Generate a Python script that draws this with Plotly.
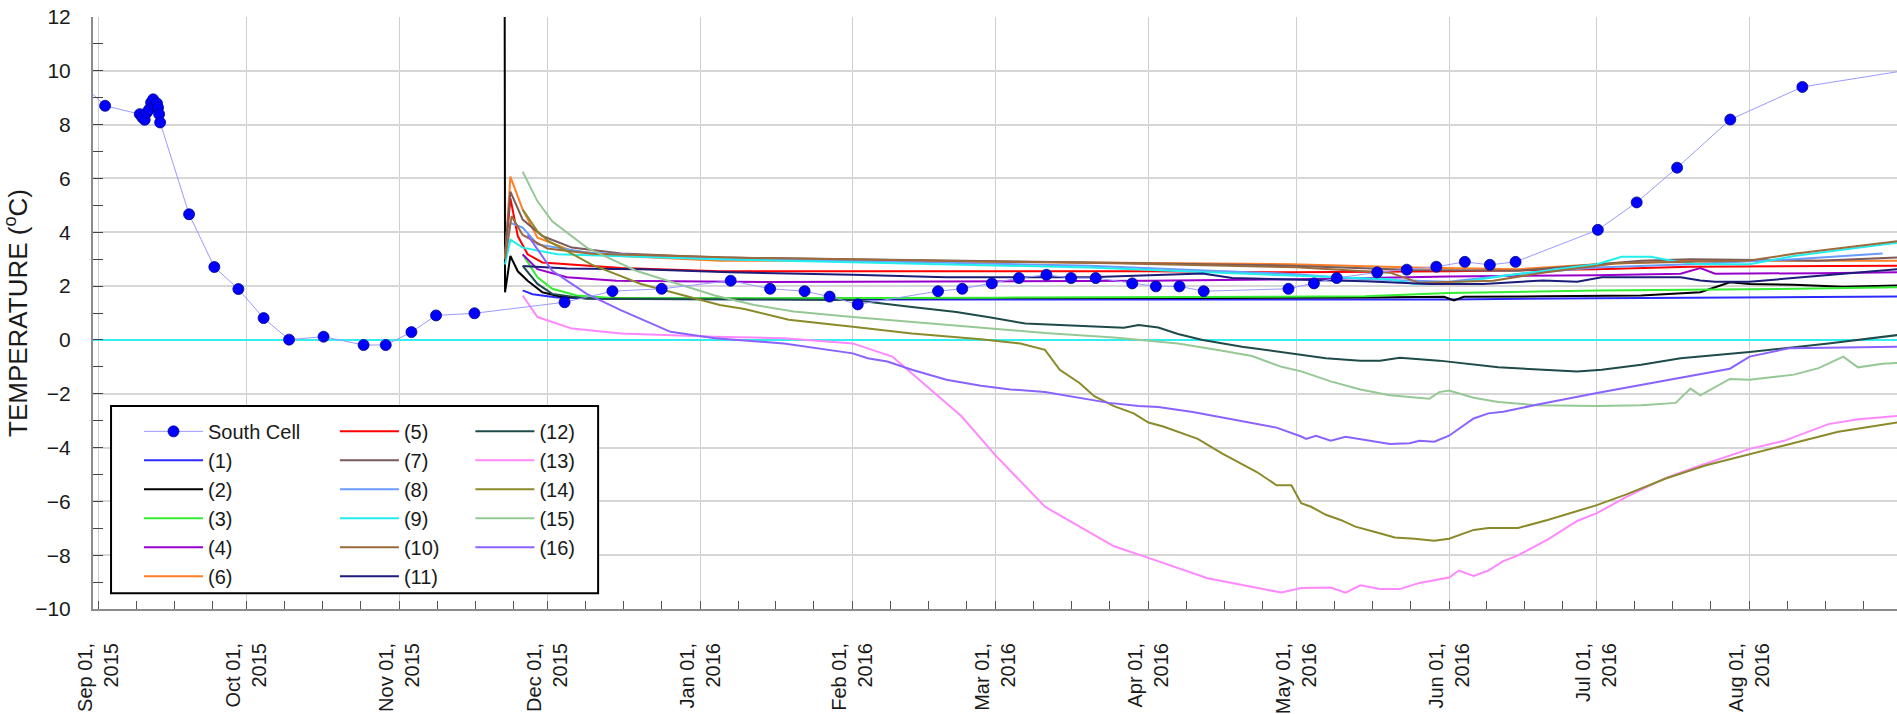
import pandas as pd
import plotly.graph_objects as go

# ---- data ----
south_dates = ['2015-08-29 12:00', '2015-09-02 06:00', '2015-09-09 07:00', '2015-09-09 19:00',
               '2015-09-10 07:00', '2015-09-10 17:00', '2015-09-11 05:00', '2015-09-11 14:00',
               '2015-09-12 00:00', '2015-09-12 10:00', '2015-09-12 19:00', '2015-09-13 00:00',
               '2015-09-13 05:00', '2015-09-13 10:00', '2015-09-19 07:00', '2015-09-24 10:00',
               '2015-09-29 07:00', '2015-10-04 10:00', '2015-10-09 14:00', '2015-10-16 14:00',
               '2015-10-24 17:00', '2015-10-29 05:00', '2015-11-03 10:00', '2015-11-08 10:00',
               '2015-11-16 05:00', '2015-12-04 12:00', '2015-12-14 05:00', '2015-12-24 05:00',
               '2016-01-07 05:00', '2016-01-15 05:00', '2016-01-22 05:00', '2016-01-27 07:00',
               '2016-02-02 00:00', '2016-02-18 07:00', '2016-02-23 05:00', '2016-02-29 05:00',
               '2016-03-05 17:00', '2016-03-11 07:00', '2016-03-16 07:00', '2016-03-21 07:00',
               '2016-03-28 17:00', '2016-04-02 12:00', '2016-04-07 07:00', '2016-04-12 05:00',
               '2016-04-29 10:00', '2016-05-04 14:00', '2016-05-09 05:00', '2016-05-17 10:00',
               '2016-05-23 10:00', '2016-05-29 10:00', '2016-06-04 05:00', '2016-06-09 07:00',
               '2016-06-14 12:00', '2016-07-01 05:00', '2016-07-09 02:00', '2016-07-17 07:00',
               '2016-07-28 02:00', '2016-08-11 17:00', '2016-09-08 00:00']
south_temp = [9.35, 8.7, 8.39, 8.27, 8.18, 8.45, 8.57, 8.82, 8.94, 8.69, 8.79, 8.63, 8.39, 8.08,
              4.67, 2.71, 1.89, 0.81, 0.01, 0.12, -0.19, -0.19, 0.29, 0.91, 0.99, 1.40, 1.81, 1.90,
              2.20, 1.90, 1.81, 1.61, 1.32, 1.81, 1.90, 2.10, 2.30, 2.42, 2.30, 2.30, 2.10, 1.99,
              1.99, 1.81, 1.90, 2.10, 2.30, 2.51, 2.61, 2.72, 2.90, 2.79, 2.90, 4.09, 5.11, 6.40,
              8.19, 9.40, 10.2]

t1_dates = ['2015-11-26', '2015-11-28', '2015-12-03', '2015-12-15', '2016-02-01', '2016-04-01',
            '2016-06-01', '2016-07-01', '2016-08-01', '2016-08-31']
t1_temp = [1.84, 1.70, 1.58, 1.52, 1.50, 1.49, 1.50, 1.55, 1.58, 1.61]

t2_dates = ['2015-11-22 08:00', '2015-11-22 10:00', '2015-11-23 12:00', '2015-11-25', '2015-11-27',
            '2015-11-30', '2015-12-04', '2015-12-10', '2015-12-20', '2016-01-15', '2016-02-15',
            '2016-03-15', '2016-04-15', '2016-05-15', '2016-05-31', '2016-06-02', '2016-06-04',
            '2016-06-20', '2016-07-10', '2016-07-22', '2016-07-28', '2016-08-01', '2016-08-10',
            '2016-08-20', '2016-08-31']
t2_temp = [14.0, 1.77, 3.12, 2.55, 2.20, 1.77, 1.59, 1.56, 1.55, 1.53, 1.55, 1.55, 1.56, 1.58,
           1.60, 1.47, 1.60, 1.62, 1.65, 1.77, 2.14, 2.08, 2.05, 1.98, 2.02]

t3_dates = ['2015-11-26', '2015-11-29', '2015-12-02', '2015-12-07', '2015-12-14', '2016-01-15',
            '2016-03-01', '2016-04-15', '2016-05-15', '2016-06-01', '2016-07-01', '2016-08-01',
            '2016-08-31']
t3_temp = [3.18, 2.33, 1.90, 1.65, 1.56, 1.55, 1.57, 1.60, 1.62, 1.74, 1.84, 1.88, 1.96]

t4_dates = ['2015-11-26', '2015-11-29', '2015-12-05', '2015-12-15', '2016-01-15', '2016-03-01',
            '2016-04-01', '2016-05-01', '2016-06-01', '2016-07-01', '2016-07-18', '2016-07-22',
            '2016-07-25', '2016-08-15', '2016-08-31']
t4_temp = [3.18, 2.63, 2.33, 2.20, 2.15, 2.17, 2.20, 2.25, 2.36, 2.40, 2.46, 2.67, 2.46, 2.48, 2.51]

t5_dates = ['2015-11-22 10:00', '2015-11-23 12:00', '2015-11-25', '2015-11-27', '2015-11-30',
            '2015-12-16', '2016-01-05', '2016-02-01', '2016-04-01', '2016-05-01', '2016-06-01',
            '2016-07-01', '2016-07-20', '2016-08-31']
t5_temp = [3.00, 5.27, 3.86, 3.18, 2.88, 2.67, 2.55, 2.55, 2.55, 2.51, 2.55, 2.63, 2.72, 2.76]

t6_dates = ['2015-11-22 10:00', '2015-11-23 12:00', '2015-11-26', '2015-11-29', '2015-12-06',
            '2015-12-16', '2016-01-05', '2016-02-01', '2016-03-20', '2016-04-30', '2016-05-25',
            '2016-06-15', '2016-07-01', '2016-07-20', '2016-08-31']
t6_temp = [3.00, 6.07, 4.84, 3.80, 3.31, 3.12, 2.94, 2.94, 2.88, 2.81, 2.69, 2.63, 2.81, 2.94, 2.94]

t7_dates = ['2015-11-22 10:00', '2015-11-23 12:00', '2015-11-26', '2015-11-30', '2015-12-06',
            '2015-12-16', '2016-01-05', '2016-02-01', '2016-03-20', '2016-04-30', '2016-05-25',
            '2016-06-15', '2016-07-10', '2016-07-20', '2016-08-15', '2016-08-31']
t7_temp = [3.20, 5.51, 4.47, 3.86, 3.43, 3.21, 3.06, 3.00, 2.88, 2.76, 2.60, 2.57, 2.94, 3.00,
           2.94, 3.06]

t8_dates = ['2015-11-22 10:00', '2015-11-23 12:00', '2015-11-26', '2015-11-29', '2015-12-09',
            '2016-01-05', '2016-02-01', '2016-03-20', '2016-04-30', '2016-05-15', '2016-06-01',
            '2016-06-15', '2016-07-01', '2016-07-20', '2016-08-10', '2016-08-28']
t8_temp = [3.00, 4.35, 4.17, 3.55, 3.25, 3.00, 2.94, 2.76, 2.45, 2.25, 2.16, 2.45, 2.69, 2.81,
           3.00, 3.21]

t9_dates = ['2015-11-22 10:00', '2015-11-23 12:00', '2015-11-26', '2015-12-03', '2016-01-05',
            '2016-02-01', '2016-03-20', '2016-04-30', '2016-05-20', '2016-05-25', '2016-06-01',
            '2016-06-15', '2016-07-01', '2016-07-06', '2016-07-12', '2016-07-17', '2016-07-22',
            '2016-08-01', '2016-08-10', '2016-08-31']
t9_temp = [2.80, 3.73, 3.43, 3.18, 3.00, 2.88, 2.69, 2.39, 2.25, 2.08, 2.10, 2.45, 2.81, 3.09,
           3.09, 2.91, 2.81, 2.81, 3.12, 3.61]

t10_dates = ['2015-11-22 10:00', '2015-11-23 18:00', '2015-11-26', '2015-12-01', '2015-12-10',
             '2016-01-10', '2016-02-15', '2016-03-25', '2016-05-01', '2016-05-20', '2016-05-26',
             '2016-06-10', '2016-06-20', '2016-07-05', '2016-07-20', '2016-08-01', '2016-08-10',
             '2016-08-31']
t10_temp = [3.00, 4.60, 3.90, 3.40, 3.20, 3.05, 2.95, 2.85, 2.70, 2.50, 2.12, 2.20, 2.50, 2.85,
            2.90, 2.95, 3.20, 3.67]

t11_dates = ['2015-11-26', '2015-12-05', '2015-12-20', '2016-01-07', '2016-02-01', '2016-02-20',
             '2016-03-20', '2016-04-05', '2016-04-12', '2016-04-18', '2016-05-01', '2016-05-15',
             '2016-05-28', '2016-06-08', '2016-06-20', '2016-06-27', '2016-07-02', '2016-07-18',
             '2016-07-22', '2016-07-25', '2016-08-01', '2016-08-12', '2016-08-31']
t11_temp = [2.75, 2.65, 2.63, 2.51, 2.42, 2.33, 2.33, 2.42, 2.47, 2.30, 2.25, 2.18, 2.08, 2.08,
            2.21, 2.16, 2.33, 2.33, 2.21, 2.16, 2.16, 2.33, 2.63]

t12_dates = ['2015-11-26', '2015-11-29', '2015-12-02', '2015-12-09', '2016-01-15', '2016-02-01',
             '2016-02-13', '2016-02-22', '2016-02-29', '2016-03-07', '2016-03-14', '2016-03-22',
             '2016-03-27', '2016-03-30', '2016-04-03', '2016-04-07', '2016-04-12', '2016-04-20',
             '2016-04-27', '2016-05-02', '2016-05-07', '2016-05-14', '2016-05-18', '2016-05-22',
             '2016-05-30', '2016-06-11', '2016-06-27', '2016-07-02', '2016-07-10', '2016-07-18',
             '2016-08-01', '2016-08-17', '2016-08-31']
t12_temp = [2.75, 2.08, 1.71, 1.53, 1.50, 1.48, 1.22, 1.04, 0.83, 0.61, 0.55, 0.49, 0.45, 0.55,
            0.46, 0.22, 0.00, -0.25, -0.43, -0.55, -0.68, -0.77, -0.77, -0.66, -0.77, -1.02,
            -1.17, -1.11, -0.92, -0.68, -0.45, -0.13, 0.18]

t13_dates = ['2015-11-26', '2015-11-29', '2015-12-06', '2015-12-16', '2016-01-04', '2016-01-18',
             '2016-02-01', '2016-02-09', '2016-02-23', '2016-03-01', '2016-03-11',
             '2016-03-25', '2016-04-01', '2016-04-13', '2016-04-28', '2016-05-02', '2016-05-08',
             '2016-05-11', '2016-05-14', '2016-05-18', '2016-05-22', '2016-05-26', '2016-06-01',
             '2016-06-03', '2016-06-06', '2016-06-09', '2016-06-12', '2016-06-15', '2016-06-21',
             '2016-06-27', '2016-07-01', '2016-07-07', '2016-07-15', '2016-07-21', '2016-08-01',
             '2016-08-08', '2016-08-17', '2016-08-23', '2016-08-31']
t13_temp = [1.65, 0.85, 0.42, 0.24, 0.12, 0.06, -0.13, -0.62, -2.83, -4.30, -6.20, -7.67,
            -8.10, -8.86, -9.39, -9.22, -9.20, -9.39, -9.12, -9.26, -9.26, -9.03, -8.83, -8.57,
            -8.77, -8.57, -8.22, -8.01, -7.42, -6.73, -6.44, -5.83, -5.13, -4.73, -4.05, -3.75,
            -3.13, -2.95, -2.83]

t14_dates = ['2015-11-26', '2015-11-29', '2015-12-01', '2015-12-10', '2015-12-20', '2016-01-05',
             '2016-01-10', '2016-01-19', '2016-02-01', '2016-02-13', '2016-02-27', '2016-03-06',
             '2016-03-11', '2016-03-14', '2016-03-18', '2016-03-21', '2016-03-25', '2016-03-29',
             '2016-04-01', '2016-04-04', '2016-04-11', '2016-04-16', '2016-04-23', '2016-04-27',
             '2016-04-30', '2016-05-02', '2016-05-04', '2016-05-07', '2016-05-10', '2016-05-13',
             '2016-05-17', '2016-05-21', '2016-05-25', '2016-05-29', '2016-06-01', '2016-06-06',
             '2016-06-09', '2016-06-15', '2016-06-21', '2016-06-27', '2016-07-01', '2016-07-07',
             '2016-07-15', '2016-07-23', '2016-08-01', '2016-08-10', '2016-08-19', '2016-08-31']
t14_temp = [4.84, 4.04, 3.70, 2.80, 2.08, 1.30, 1.15, 0.75, 0.49, 0.24, 0.02, -0.13, -0.37, -1.11,
            -1.60, -2.09, -2.46, -2.73, -3.07, -3.22, -3.68, -4.23, -4.91, -5.40, -5.40, -6.07,
            -6.20, -6.50, -6.69, -6.94, -7.14, -7.34, -7.39, -7.46, -7.39, -7.06, -6.99, -6.99,
            -6.69, -6.36, -6.14, -5.74, -5.15, -4.67, -4.26, -3.83, -3.41, -3.07]

t15_dates = ['2015-11-26', '2015-11-29', '2015-12-02', '2015-12-09', '2015-12-19', '2016-01-04',
             '2016-01-12', '2016-01-20', '2016-02-01', '2016-02-13', '2016-02-27', '2016-03-11',
             '2016-03-25', '2016-04-07', '2016-04-16', '2016-04-22', '2016-04-28', '2016-05-02',
             '2016-05-08', '2016-05-14', '2016-05-20', '2016-05-28', '2016-05-30', '2016-06-01',
             '2016-06-06', '2016-06-11', '2016-06-19', '2016-07-01', '2016-07-10', '2016-07-17',
             '2016-07-20', '2016-07-22', '2016-07-28', '2016-08-01', '2016-08-10', '2016-08-15',
             '2016-08-20', '2016-08-23', '2016-08-28', '2016-08-31']
t15_temp = [6.25, 5.15, 4.41, 3.43, 2.57, 1.65, 1.30, 1.06, 0.85, 0.67, 0.45, 0.26, 0.09, -0.13,
            -0.40, -0.60, -1.00, -1.17, -1.54, -1.84, -2.06, -2.19, -1.94, -1.88, -2.15, -2.31,
            -2.43, -2.46, -2.43, -2.34, -1.81, -2.06, -1.45, -1.48, -1.29, -1.05, -0.62, -1.02,
            -0.89, -0.86]

t16_dates = ['2015-11-27', '2015-12-02', '2015-12-09', '2015-12-16', '2015-12-26', '2016-01-04',
             '2016-01-18', '2016-02-01', '2016-02-04', '2016-02-08', '2016-02-13',
             '2016-02-20', '2016-02-27', '2016-03-04', '2016-03-11', '2016-03-18', '2016-03-24',
             '2016-03-30', '2016-04-03', '2016-04-10', '2016-04-16', '2016-04-23', '2016-04-27',
             '2016-05-02', '2016-05-03', '2016-05-05', '2016-05-08', '2016-05-11', '2016-05-15',
             '2016-05-20', '2016-05-24', '2016-05-26', '2016-05-29', '2016-06-01', '2016-06-06',
             '2016-06-09', '2016-06-12', '2016-06-19', '2016-07-01', '2016-07-16', '2016-07-28',
             '2016-08-01', '2016-08-09', '2016-08-31']
t16_temp = [3.90, 2.57, 1.71, 1.10, 0.30, 0.06, -0.13, -0.50, -0.68, -0.80, -1.11, -1.48,
            -1.70, -1.84, -1.94, -2.15, -2.34, -2.46, -2.49, -2.68, -2.89, -3.13, -3.26, -3.59,
            -3.68, -3.56, -3.75, -3.60, -3.71, -3.87, -3.84, -3.75, -3.78, -3.56, -2.92, -2.73,
            -2.67, -2.40, -1.97, -1.48, -1.07, -0.62, -0.31, -0.25]

month_ticks = ['2015-09-01', '2015-10-01', '2015-11-01', '2015-12-01', '2016-01-01', '2016-02-01',
               '2016-03-01', '2016-04-01', '2016-05-01', '2016-06-01', '2016-07-01', '2016-08-01']
month_labels = ['Sep 01,<br>2015', 'Oct 01,<br>2015', 'Nov 01,<br>2015', 'Dec 01,<br>2015',
                'Jan 01,<br>2016', 'Feb 01,<br>2016', 'Mar 01,<br>2016', 'Apr 01,<br>2016',
                'May 01,<br>2016', 'Jun 01,<br>2016', 'Jul 01,<br>2016', 'Aug 01,<br>2016']

# ---- series: (name, dates, temps, colour, legend column) ----
series = [
    ('(1)', t1_dates, t1_temp, '#2b2bff', 'legend'),
    ('(2)', t2_dates, t2_temp, '#000000', 'legend'),
    ('(3)', t3_dates, t3_temp, '#33ee33', 'legend'),
    ('(4)', t4_dates, t4_temp, '#9900cc', 'legend'),
    ('(5)', t5_dates, t5_temp, '#ff0000', 'legend2'),
    ('(6)', t6_dates, t6_temp, '#ff7f27', 'legend'),
    ('(7)', t7_dates, t7_temp, '#7b5a5a', 'legend2'),
    ('(8)', t8_dates, t8_temp, '#6a9bff', 'legend2'),
    ('(9)', t9_dates, t9_temp, '#22eeee', 'legend2'),
    ('(10)', t10_dates, t10_temp, '#9c6b3c', 'legend2'),
    ('(11)', t11_dates, t11_temp, '#1c1c7a', 'legend2'),
    ('(12)', t12_dates, t12_temp, '#1f4a4a', 'legend3'),
    ('(13)', t13_dates, t13_temp, '#ff88ff', 'legend3'),
    ('(14)', t14_dates, t14_temp, '#8a8a2a', 'legend3'),
    ('(15)', t15_dates, t15_temp, '#96c896', 'legend3'),
    ('(16)', t16_dates, t16_temp, '#8a63ff', 'legend3'),
]


def to_dt(d):
    return pd.to_datetime(d, format='mixed')


fig = go.Figure()

for i, (name, d, t, col, leg) in enumerate(series):
    fig.add_trace(go.Scatter(
        x=to_dt(d), y=t, mode='lines', name=name,
        line=dict(color=col, width=2), legend=leg, legendrank=10 + i,
    ))

# South Cell on top of the thermistor strings
fig.add_trace(go.Scatter(
    x=to_dt(south_dates), y=south_temp, mode='lines+markers', name='South Cell',
    line=dict(color='#9a9aff', width=1),
    marker=dict(color='#0000ff', size=11, line=dict(color='#00008b', width=0.8)),
    legend='legend', legendrank=1,
))

# minor ticks on x: quarter-ish steps inside each month
starts = to_dt(month_ticks)
minor_x = [s + pd.Timedelta(days=7.7 * k) for s in starts for k in (1, 2, 3)]

font = 'Liberation Sans, Arial, sans-serif'
leg_common = dict(bgcolor='rgba(0,0,0,0)', borderwidth=0, font=dict(size=20, color='#1a1a1a', family=font),
                  xanchor='left', yanchor='top', y=0.333, itemwidth=59, tracegroupgap=0,
                  traceorder='normal')

fig.update_layout(
    width=1897, height=714,
    margin=dict(l=93, r=0, t=17, b=99),
    plot_bgcolor='white', paper_bgcolor='white',
    font=dict(family=font, size=20, color='#1a1a1a'),
    showlegend=True,
    legend=dict(x=0.0255, **leg_common),
    legend2=dict(x=0.1341, **leg_common),
    legend3=dict(x=0.2092, **leg_common),
    shapes=[dict(type='rect', xref='paper', yref='paper', x0=0.0100, x1=0.2800, y0=0.0268, y1=0.3430,
                 line=dict(color='black', width=2), fillcolor='white', layer='above')],
    xaxis=dict(
        type='date', range=['2015-08-30 19:00', '2016-08-30 22:00'],
        tickmode='array', tickvals=month_ticks, ticktext=month_labels, tickangle=-90,
        tickfont=dict(size=20), ticklabelstandoff=24,
        showgrid=True, gridcolor='#cfcfcf', gridwidth=1,
        showline=True, linecolor='#8c8c8c', linewidth=2,
        ticks='inside', ticklen=8, tickcolor='#555',
        minor=dict(tickmode='array', tickvals=minor_x, ticks='inside', ticklen=8, tickcolor='#555',
                   showgrid=False),
        zeroline=False,
    ),
    yaxis=dict(
        range=[-10, 12], tickmode='linear', tick0=-10, dtick=2,
        tickfont=dict(size=21), ticklabelstandoff=16,
        showgrid=True, gridcolor='#d6d6d6', gridwidth=2,
        showline=True, linecolor='#8c8c8c', linewidth=2,
        ticks='inside', ticklen=10, tickcolor='#444',
        minor=dict(dtick=1, ticks='inside', ticklen=10, tickcolor='#444', showgrid=False),
        zeroline=True, zerolinecolor='#33eeee', zerolinewidth=2,
        title=dict(text='TEMPERATURE (<sup>o</sup>C)', font=dict(size=26), standoff=7),
    ),
)

fig.write_html("out.html", config={'displayModeBar': False},
               post_script="document.body.style.margin='0';document.body.style.overflow='hidden';")
